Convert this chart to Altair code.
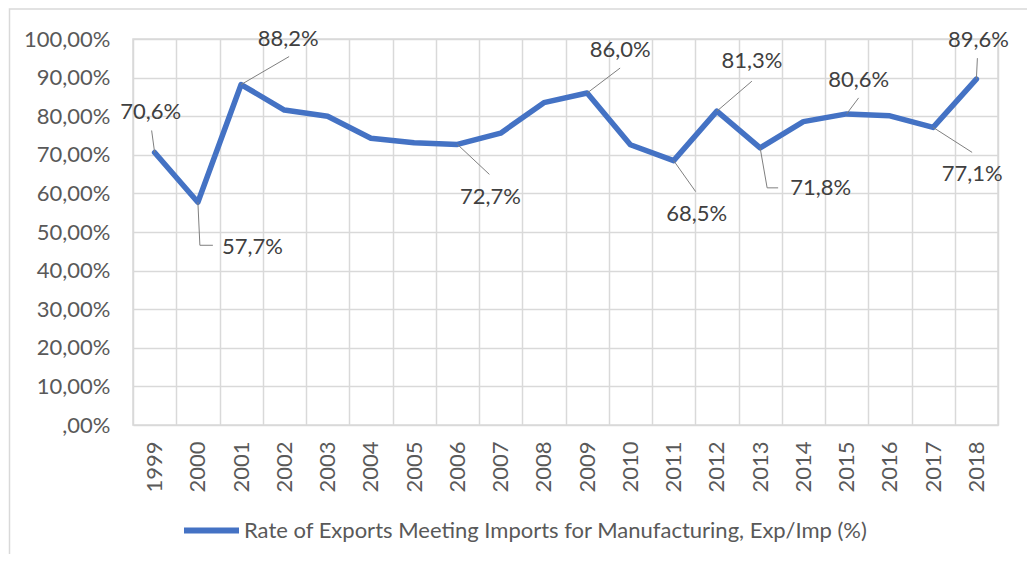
import altair as alt
import pandas as pd

# ---- data ----
years = [str(y) for y in range(1999, 2019)]
values = [70.6, 57.7, 88.2, 81.6, 80.0, 74.3, 73.1, 72.7, 75.6, 83.5,
          86.0, 72.6, 68.5, 81.3, 71.8, 78.6, 80.6, 80.1, 77.1, 89.6]
labeled_years = ["1999", "2000", "2001", "2006", "2009", "2011",
                 "2012", "2013", "2015", "2017", "2018"]
series_name = "Rate of Exports Meeting Imports for Manufacturing, Exp/Imp (%)"
y_ticks = list(range(0, 101, 10))

# ---- label layout (pixel offsets from each labelled point) ----
label_layout = {
    "1999": dict(tx=-4, ty=-40, align="center", leader=[(-3, -22)]),
    "2000": dict(tx=24, ty=45, align="left", leader=[(2, 43), (15, 43)]),
    "2001": dict(tx=47, ty=-46, align="center", leader=[(48, -28)]),
    "2006": dict(tx=33, ty=53, align="center", leader=[(32, 30)]),
    "2009": dict(tx=33, ty=-43, align="center", leader=[(33, -25)]),
    "2011": dict(tx=23, ty=53, align="center", leader=[(22, 31)]),
    "2012": dict(tx=35, ty=-50, align="center", leader=[(35, -30)]),
    "2013": dict(tx=30, ty=40, align="left", leader=[(7, 40), (18, 40)]),
    "2015": dict(tx=12, ty=-34, align="center", leader=[(12, -16)]),
    "2017": dict(tx=39, ty=47, align="center", leader=[(39, 25)]),
    "2018": dict(tx=2, ty=-39, align="center", leader=[(1, -21)]),
}

FONT = "Lato"
FS = 22
W, H = 865, 386
GRID = "#d9d9d9"

df = pd.DataFrame({"year": years, "value": values, "series": series_name})
base = alt.Chart(df)

x_scale = alt.Scale(type="band", paddingInner=0, paddingOuter=0)
y_scale = alt.Scale(domain=[0, 100], nice=False)

x_enc = alt.X(
    "year:O",
    scale=x_scale,
    title=None,
    axis=alt.Axis(
        grid=True, gridColor=GRID, tickBand="extent",
        gridWidth=1.5, ticks=False, domain=False, labelAngle=-90,
        labelAlign="right", labelBaseline="middle", labelPadding=16,
        labelFont=FONT, labelFontSize=FS, labelColor="#595959",
        labelOverlap=False,
    ),
)
y_enc = alt.Y(
    "value:Q",
    scale=y_scale,
    title=None,
    axis=alt.Axis(
        values=y_ticks, grid=True, gridColor=GRID, gridWidth=1.5,
        ticks=False, tickSize=0, domain=False, labelPadding=23,
        labelFont=FONT, labelFontSize=FS, labelColor="#595959",
        labelOverlap=False,
        labelExpr="datum.value == 0 ? ',00%' : replace(format(datum.value, '.2f'), '.', ',') + '%'",
    ),
)

line = base.mark_line(strokeWidth=5.5, strokeJoin="round", strokeCap="round").encode(
    x=x_enc,
    y=y_enc,
    color=alt.Color(
        "series:N",
        scale=alt.Scale(range=["#4472C4"]),
        legend=alt.Legend(
            title=None, orient="none", legendX=48, legendY=461, padding=0,
            symbolType="stroke", symbolSize=3025, symbolStrokeWidth=6,
            labelFont=FONT, labelFontSize=FS, labelColor="#595959",
            labelOffset=2, labelLimit=0,
        ),
    ),
)

layers = []
# outer frame of the chart
frame = alt.Chart(pd.DataFrame({"k": [0]})).mark_rect(
    filled=False, stroke=GRID, strokeWidth=1.5
).encode(
    x=alt.value(-123.5), x2=alt.value(W + 60), y=alt.value(-30), y2=alt.value(H + 200)
)
layers.append(frame)
layers.append(line)

for yr in labeled_years:
    lay = label_layout[yr]
    sub = base.transform_filter(alt.datum.year == yr)
    pts = [(0, 0)] + lay["leader"]
    for (a, b), (c, d) in zip(pts[:-1], pts[1:]):
        layers.append(
            sub.mark_rule(color="#7f7f7f", strokeWidth=1,
                          xOffset=a, yOffset=b, x2Offset=c, y2Offset=d).encode(
                x=x_enc,
                y=y_enc,
                x2=alt.X2("year"),
                y2=alt.Y2("value"),
            )
        )
    layers.append(
        sub.transform_calculate(
            lab="replace(format(datum.value, '.1f'), '.', ',') + '%'"
        ).mark_text(
            dx=lay["tx"], dy=lay["ty"], align=lay["align"], baseline="middle",
            font=FONT, fontSize=FS, color="#404040",
        ).encode(x=x_enc, y=y_enc, text="lab:N")
    )

chart = alt.layer(*layers).properties(
    width=W, height=H,
    autosize=alt.AutoSizeParams(type="none"),
    padding={"left": 125, "top": 31, "right": 29, "bottom": 129},
    background="white",
).configure_view(stroke=GRID, strokeWidth=1.5)

chart.save("out.html", embed_options={"renderer": "svg", "actions": False})
